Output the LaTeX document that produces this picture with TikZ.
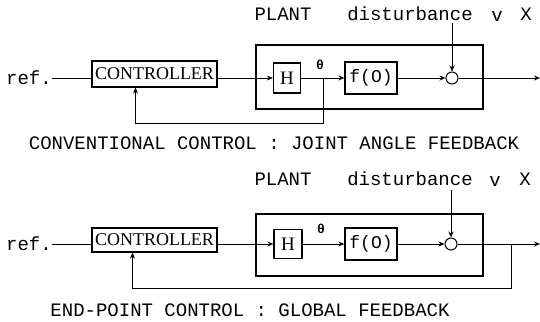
\documentclass[tikz,border=0pt]{standalone}
\usepackage{fontspec}
\setmainfont{Liberation Serif}
\setmonofont{Liberation Mono}
\usetikzlibrary{arrows.meta,positioning}
\tikzset{
  blk/.style={draw, rectangle, line width=1.2pt, inner sep=0pt, align=center},
  lbl/.style={inner sep=0pt, font=\ttfamily\fontsize{19}{19}\selectfont},
  thlbl/.style={inner sep=0pt, font=\ttfamily\bfseries\fontsize{13}{13}\selectfont},
  sumj/.style={draw, circle, line width=1pt, minimum size=12pt, inner sep=0pt},
  arr/.style={-{Stealth[length=6pt,width=5pt]}, line width=1pt},
  ln/.style={line width=1pt},
}

\begin{document}
\begin{tikzpicture}[x=1pt,y=-1pt]
\useasboundingbox (0,0) rectangle (540,321);

% conventional control
\node[blk, minimum width=227pt, minimum height=64pt] (plantA) at (369.5,77) {};
\node[lbl] (refA) at (29,78) {ref.};
\node[blk, minimum width=125pt, minimum height=26pt, font=\fontsize{18}{18}\selectfont] (ctrlA) at (154.5,74) {CONTROLLER};
\node[blk, minimum width=27pt, minimum height=30pt, font=\fontsize{19}{19}\selectfont] (hA) at (287,78) {H};
\node[blk, minimum width=52pt, minimum height=32pt, font=\ttfamily\fontsize{18}{18}\selectfont] (fA) at (371,78) {f(O)};
\node[sumj] (sumA) at (452,78) {};
\node[thlbl] (thA) at (320,65) {θ};
\node[lbl] (plantlblA) at (283,14) {PLANT};
\node[lbl] (distA) at (410,14) {disturbance};
\node[lbl] (vA) at (497,16) {v};
\node[lbl] (xA) at (526,14) {X};
\node[lbl] (capA) at (274,143) {CONVENTIONAL CONTROL : JOINT ANGLE FEEDBACK};
\coordinate (dA) at (452,23);
\coordinate (brA) at (323,78);
\coordinate (outA) at (540,78);

\draw[ln] (refA.east) -- (refA.east -| ctrlA.west);
\draw[arr] (ctrlA.east |- hA) -- (hA);
\draw[arr] (hA) -- (fA);
\draw[arr] (fA) -- (sumA);
\draw[arr] (dA) -- (sumA);
\draw[arr] (sumA) -- (outA);
\draw[arr] (brA) -- ++(0,45) -| ([xshift=-19pt]ctrlA.south);

% end-point control
\node[blk, minimum width=227pt, minimum height=62pt] (plantB) at (369.5,245) {};
\node[lbl] (refB) at (29,244) {ref.};
\node[blk, minimum width=125pt, minimum height=24pt, font=\fontsize{18}{18}\selectfont] (ctrlB) at (154.5,240) {CONTROLLER};
\node[blk, minimum width=28pt, minimum height=29pt, font=\fontsize{19}{19}\selectfont] (hB) at (288,244) {H};
\node[blk, minimum width=52pt, minimum height=32pt, font=\ttfamily\fontsize{18}{18}\selectfont] (fB) at (371,244) {f(O)};
\node[sumj] (sumB) at (451,244) {};
\node[thlbl] (thB) at (321,229) {θ};
\node[lbl] (plantlblB) at (283,179) {PLANT};
\node[lbl] (distB) at (410,179) {disturbance};
\node[lbl] (vB) at (495,181) {v};
\node[lbl] (xB) at (525,179) {X};
\node[lbl] (capB) at (250,310) {END-POINT CONTROL : GLOBAL FEEDBACK};
\coordinate (dB) at (451,190);
\coordinate (tapB) at (511,244);
\coordinate (outB) at (540,244);

\draw[ln] (refB.east) -- (refB.east -| ctrlB.west);
\draw[arr] (ctrlB.east |- hB) -- (hB);
\draw[arr] (hB) -- (fB);
\draw[arr] (fB) -- (sumB);
\draw[arr] (dB) -- (sumB);
\draw[arr] (sumB) -- (outB);
\draw[arr] (tapB) -- ++(0,44) -| ([xshift=-22pt]ctrlB.south);

\end{tikzpicture}
\end{document}
